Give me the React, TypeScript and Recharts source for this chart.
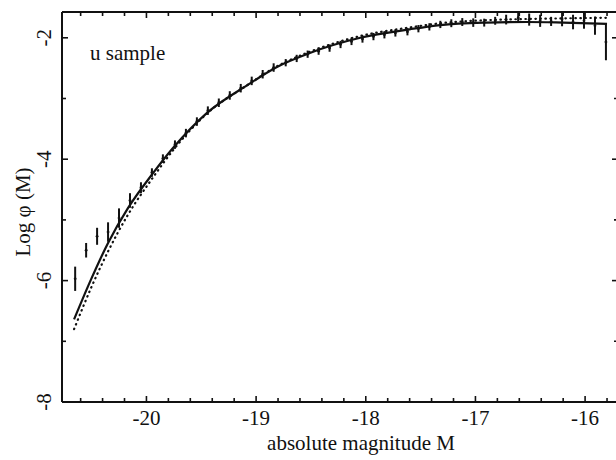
import React from 'react';
import { ComposedChart, Line, Scatter, ErrorBar, XAxis, YAxis } from 'recharts';

// measured luminosity-function points (u band)
const magnitudes = [
  -20.65, -20.55, -20.45, -20.35, -20.25, -20.15, -20.05, -19.95, -19.85, -19.74,
  -19.64, -19.54, -19.44, -19.34, -19.24, -19.14, -19.04, -18.94, -18.84, -18.73,
  -18.63, -18.53, -18.43, -18.33, -18.23, -18.13, -18.03, -17.93, -17.83, -17.73,
  -17.62, -17.52, -17.42, -17.32, -17.22, -17.12, -17.02, -16.92, -16.82, -16.72,
  -16.61, -16.51, -16.41, -16.31, -16.21, -16.11, -16.01, -15.91, -15.81,
];
const logPhi = [
  -5.97, -5.5, -5.27, -5.2, -4.97, -4.68, -4.47, -4.22, -3.99, -3.76,
  -3.57, -3.38, -3.2, -3.07, -2.95, -2.83, -2.71, -2.6, -2.49, -2.41,
  -2.34, -2.27, -2.22, -2.17, -2.11, -2.06, -2.02, -1.98, -1.95, -1.92,
  -1.9, -1.85, -1.82, -1.78, -1.76, -1.74, -1.75, -1.75, -1.72, -1.7,
  -1.67, -1.7, -1.72, -1.73, -1.69, -1.74, -1.72, -1.8, -2.07,
];
const logPhiErr = [
  0.2, 0.12, 0.14, 0.16, 0.16, 0.12, 0.09, 0.07, 0.07, 0.07,
  0.07, 0.07, 0.07, 0.07, 0.07, 0.07, 0.07, 0.07, 0.07, 0.06,
  0.06, 0.06, 0.06, 0.06, 0.06, 0.06, 0.06, 0.06, 0.06, 0.06,
  0.06, 0.06, 0.06, 0.06, 0.065, 0.065, 0.07, 0.065, 0.065, 0.08,
  0.08, 0.1, 0.1, 0.075, 0.12, 0.12, 0.13, 0.15, 0.3,
];

// fitted curves
const fitMag = [-20.66, -20.5, -20.35, -20.17, -19.94, -19.76, -19.45, -19.08, -18.81, -18.51, -18.05, -17.6, -17.32, -16.9, -16.53, -16.2, -15.8];
const solidFit = [-6.64, -5.96, -5.38, -4.81, -4.23, -3.82, -3.24, -2.78, -2.48, -2.25, -2.0, -1.86, -1.79, -1.75, -1.74, -1.75, -1.77];
const dottedFit = [-6.8, -6.1, -5.52, -4.92, -4.3, -3.86, -3.25, -2.78, -2.47, -2.23, -1.97, -1.83, -1.76, -1.71, -1.69, -1.68, -1.67];

// ticks
const xTicks = [
  -20.6, -20.4, -20.2, -20, -19.8, -19.6, -19.4, -19.2, -19, -18.8, -18.6, -18.4, -18.2,
  -18, -17.8, -17.6, -17.4, -17.2, -17, -16.8, -16.6, -16.4, -16.2, -16, -15.8,
];
const xLabels = [-20, -19, -18, -17, -16];
const yTicks = [-8, -7, -6, -5, -4, -3, -2];
const yLabels = [-8, -6, -4, -2];

const CHART_W = 630;
const CHART_H = 460;
const LEFT = 62;
const TOP = 12;
const RIGHT = 618;
const BOTTOM = 402;
const FONT = '"Liberation Serif", "DejaVu Serif", "Times New Roman", serif';
const INK = '#111';
const textStyle = { fontFamily: FONT, fontSize: 21, fill: INK };

const points = magnitudes.map((m, i) => ({ M: m, v: logPhi[i], err: logPhiErr[i] }));
const solidData = fitMag.map((m, i) => ({ M: m, v: solidFit[i] }));
const dottedData = fitMag.map((m, i) => ({ M: m, v: dottedFit[i] }));

// inward ticks on bottom and mirrored on top
function XTick(props: any) {
  const { x, payload } = props;
  const major = xLabels.includes(payload.value);
  const len = major ? 6 : 4;
  return (
    <g>
      <line x1={x} x2={x} y1={BOTTOM} y2={BOTTOM - len} stroke={INK} strokeWidth={1.6} />
      <line x1={x} x2={x} y1={TOP} y2={TOP + len} stroke={INK} strokeWidth={1.6} />
      {major && (
        <text x={x} y={BOTTOM + 23} textAnchor="middle" style={textStyle}>
          {String(payload.value)}
        </text>
      )}
    </g>
  );
}

// inward ticks on left and mirrored on right, rotated labels
function YTick(props: any) {
  const { y, payload } = props;
  const major = yLabels.includes(payload.value);
  const len = major ? 6 : 4;
  return (
    <g>
      <line x1={LEFT} x2={LEFT + len} y1={y} y2={y} stroke={INK} strokeWidth={1.6} />
      <line x1={RIGHT} x2={RIGHT - len} y1={y} y2={y} stroke={INK} strokeWidth={1.6} />
      {major && (
        <text x={51} y={y} textAnchor="middle" transform={`rotate(-90, 51, ${y})`} style={textStyle}>
          {String(payload.value)}
        </text>
      )}
    </g>
  );
}

const Dot = (props: any) => <circle cx={props.cx} cy={props.cy} r={1.4} fill={INK} />;

export default function App() {
  return (
    <div
      style={{
        position: 'fixed',
        left: 0,
        top: 0,
        width: 616,
        height: 460,
        overflow: 'hidden',
        background: '#fff',
        fontFamily: FONT,
      }}
    >
      <ComposedChart width={CHART_W} height={CHART_H} margin={{ top: TOP, right: CHART_W - RIGHT, bottom: 0, left: 0 }}>
        <XAxis
          dataKey="M"
          type="number"
          domain={[-20.77, -15.7]}
          ticks={xTicks}
          interval={0}
          tick={<XTick />}
          tickLine={false}
          tickSize={0}
          tickMargin={0}
          height={CHART_H - BOTTOM}
          axisLine={{ stroke: INK, strokeWidth: 2 }}
          allowDataOverflow
        />
        <YAxis
          type="number"
          domain={[-8, -1.575]}
          ticks={yTicks}
          interval={0}
          tick={<YTick />}
          tickLine={false}
          tickSize={0}
          tickMargin={0}
          width={LEFT}
          axisLine={{ stroke: INK, strokeWidth: 2 }}
          allowDataOverflow
        />
        <Line
          data={dottedData}
          dataKey="v"
          type="monotone"
          stroke={INK}
          strokeWidth={2.2}
          strokeDasharray="0.5 4.5"
          strokeLinecap="round"
          dot={false}
          isAnimationActive={false}
        />
        <Line
          data={solidData}
          dataKey="v"
          type="monotone"
          stroke={INK}
          strokeWidth={2.2}
          dot={false}
          isAnimationActive={false}
        />
        <Scatter data={points} dataKey="v" shape={<Dot />} isAnimationActive={false}>
          <ErrorBar dataKey="err" direction="y" width={0} stroke={INK} strokeWidth={2} />
        </Scatter>
        <line x1={LEFT} x2={RIGHT} y1={TOP} y2={TOP} stroke={INK} strokeWidth={2} />
        <line x1={RIGHT} x2={RIGHT} y1={TOP} y2={BOTTOM} stroke={INK} strokeWidth={2} />
        <text x={90} y={60} style={textStyle}>u sample</text>
        <text x={361} y={450} textAnchor="middle" style={textStyle}>
          absolute magnitude M
        </text>
        <text x={30} y={212} textAnchor="middle" transform="rotate(-90, 30, 212)" style={textStyle}>
          Log φ (M)
        </text>
      </ComposedChart>
    </div>
  );
}
